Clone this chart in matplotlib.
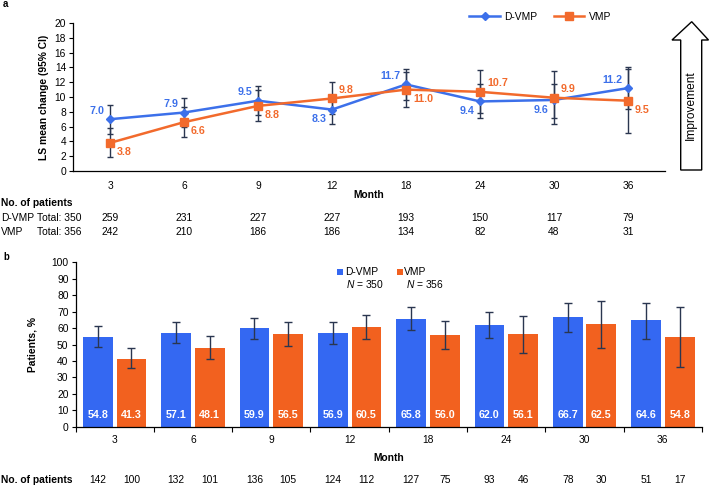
import matplotlib
matplotlib.use("Agg")
import matplotlib.pyplot as plt
import matplotlib.transforms as mtransforms
from matplotlib.patches import Polygon, Rectangle
import numpy as np

plt.rcParams['font.family'] = ['Liberation Sans', 'DejaVu Sans']
plt.rcParams['mathtext.fontset'] = 'custom'
plt.rcParams['mathtext.it'] = 'Liberation Sans:italic'
plt.rcParams['mathtext.rm'] = 'Liberation Sans'

months = ["3", "6", "9", "12", "18", "24", "30", "36"]

# Panel a: LS mean change
dvmp_mean = [7.0, 7.9, 9.5, 8.3, 11.7, 9.4, 9.6, 11.2]
dvmp_lo = [5.0, 5.9, 7.5, 6.3, 9.6, 7.1, 7.2, 8.4]
dvmp_hi = [8.9, 9.9, 11.5, 10.3, 13.8, 11.7, 11.7, 14.1]
vmp_mean = [3.8, 6.6, 8.8, 9.8, 11.0, 10.7, 9.9, 9.5]
vmp_lo = [1.9, 4.6, 6.8, 7.7, 8.7, 7.8, 6.4, 5.1]
vmp_hi = [5.8, 8.6, 10.9, 12.0, 13.4, 13.6, 13.5, 13.8]
dvmp_n_a = [259, 231, 227, 227, 193, 150, 117, 79]
vmp_n_a = [242, 210, 186, 186, 134, 82, 48, 31]

# Panel b: patients %
dvmp_pct = [54.8, 57.1, 59.9, 56.9, 65.8, 62.0, 66.7, 64.6]
dvmp_pct_lo = [48.7, 50.7, 53.3, 50.3, 58.8, 53.8, 57.8, 53.1]
dvmp_pct_hi = [61.1, 63.7, 66.3, 63.7, 72.6, 70.0, 75.3, 75.3]
vmp_pct = [41.3, 48.1, 56.5, 60.5, 56.0, 56.1, 62.5, 54.8]
vmp_pct_lo = [35.5, 41.4, 48.9, 53.1, 47.1, 44.6, 47.7, 36.1]
vmp_pct_hi = [47.9, 55.4, 63.9, 67.7, 64.5, 67.1, 76.3, 73.0]
dvmp_n_b = [142, 132, 136, 124, 127, 93, 78, 51]
vmp_n_b = [100, 101, 105, 112, 75, 46, 30, 17]

BLUE = '#3468F2'
ORANGE = '#F2611F'
LBLUE = '#3C70EA'
LORANGE = '#F26A2C'
ERR = '#2A3650'
FS = 7.4

W, H = 710, 486
fig = plt.figure(figsize=(W / 100, H / 100), dpi=100)

def fy(py):
    return 1 - py / H

def fx(px):
    return px / W

# ---------------- Panel a ----------------
axa = fig.add_axes([fx(73), fy(171), fx(665) - fx(73), fy(23) - fy(171)])
x = np.arange(len(months))
d_err = [np.array(dvmp_mean) - np.array(dvmp_lo), np.array(dvmp_hi) - np.array(dvmp_mean)]
v_err = [np.array(vmp_mean) - np.array(vmp_lo), np.array(vmp_hi) - np.array(vmp_mean)]
axa.errorbar(x, dvmp_mean, yerr=d_err, fmt='none', ecolor=ERR, elinewidth=1.0, capsize=2.5, capthick=1.0, zorder=2)
axa.errorbar(x, vmp_mean, yerr=v_err, fmt='none', ecolor=ERR, elinewidth=1.0, capsize=2.5, capthick=1.0, zorder=2)
axa.plot(x, dvmp_mean, color=LBLUE, lw=1.8, marker='D', ms=4.5, label='D-VMP', zorder=3)
axa.plot(x, vmp_mean, color=LORANGE, lw=1.8, marker='s', ms=6, label='VMP', zorder=4)

axa.set_xlim(-0.5, 7.5)
axa.set_ylim(0, 20)
axa.set_yticks(np.arange(0, 21, 2))
axa.set_xticks(x)
axa.set_xticklabels(months)
axa.tick_params(axis='x', length=0, pad=7, labelsize=FS)
axa.tick_params(axis='y', length=3, width=0.8, direction='out', pad=2, labelsize=FS)
for s in ['top', 'right']:
    axa.spines[s].set_visible(False)
for s in ['left', 'bottom']:
    axa.spines[s].set_linewidth(0.9)
axa.set_ylabel('LS mean change (95% CI)', fontsize=FS, fontweight='bold', labelpad=4)

# Data labels
d_pos = ['up', 'up', 'up', 'down', 'up', 'down', 'down', 'up']
v_pos = ['down', 'down', 'down', 'up', 'down', 'up', 'up', 'down']
for i in range(len(months)):
    dy = 6 if d_pos[i] == 'up' else -7
    axa.annotate(f"{dvmp_mean[i]:.1f}", (x[i], dvmp_mean[i]), xytext=(-4, dy),
                 textcoords='offset points', ha='right', va='center',
                 color=LBLUE, fontsize=FS + 0.3, fontweight='bold')
    dy = 6 if v_pos[i] == 'up' else -6.5
    axa.annotate(f"{vmp_mean[i]:.1f}", (x[i], vmp_mean[i]), xytext=(5, dy),
                 textcoords='offset points', ha='left', va='center',
                 color=LORANGE, fontsize=FS + 0.3, fontweight='bold')

axa.legend(loc='center', bbox_to_anchor=(fx(540), fy(17)), bbox_transform=fig.transFigure,
           ncol=2, frameon=False, fontsize=FS, handlelength=3.0, columnspacing=1.6,
           handletextpad=0.4, borderpad=0)

fig.text(fx(3), fy(4), 'a', fontsize=FS - 0.5, fontweight='bold', ha='left', va='center')
fig.text(fx(369), fy(195), 'Month', fontsize=FS, fontweight='bold', ha='center', va='center')

# Table a
fig.text(0.001, fy(203.3), 'No. of patients', fontsize=FS, fontweight='bold', ha='left', va='center')
fig.text(0.001, fy(218.3), 'D-VMP', fontsize=FS, ha='left', va='center')
fig.text(fx(37), fy(218.3), 'Total: 350', fontsize=FS, ha='left', va='center')
fig.text(0.001, fy(232.3), 'VMP', fontsize=FS, ha='left', va='center')
fig.text(fx(37), fy(232.3), 'Total: 356', fontsize=FS, ha='left', va='center')
trans_a = mtransforms.blended_transform_factory(axa.transData, fig.transFigure)
for i in range(len(months)):
    axa.text(x[i], fy(218.3), str(dvmp_n_a[i]), transform=trans_a, fontsize=FS, ha='center', va='center', clip_on=False)
    axa.text(x[i], fy(232.3), str(vmp_n_a[i]), transform=trans_a, fontsize=FS, ha='center', va='center', clip_on=False)

# Improvement arrow
arrow_pts = [(691.7, 21.7), (708.5, 40), (701.7, 40), (701.7, 170), (680.7, 170), (680.7, 40), (672, 40)]
arrow = Polygon([(fx(px), fy(py)) for px, py in arrow_pts], closed=True, transform=fig.transFigure,
                facecolor='white', edgecolor='black', lw=1.0)
fig.patches.append(arrow)
fig.text(fx(691.2), fy(105), 'Improvement', rotation=90, fontsize=8.6, ha='center', va='center')

# ---------------- Panel b ----------------
axb = fig.add_axes([fx(75.5), fy(426.7), fx(702) - fx(75.5), fy(262.3) - fy(426.7)])
bw = 0.38
off = 0.215
xd = x - off
xv = x + off
axb.bar(xd, dvmp_pct, width=bw, color=BLUE, zorder=2)
axb.bar(xv, vmp_pct, width=bw, color=ORANGE, zorder=2)
axb.errorbar(xd, dvmp_pct, yerr=[np.array(dvmp_pct) - np.array(dvmp_pct_lo), np.array(dvmp_pct_hi) - np.array(dvmp_pct)],
             fmt='none', ecolor=ERR, elinewidth=1.0, capsize=3, capthick=1.0, zorder=3)
axb.errorbar(xv, vmp_pct, yerr=[np.array(vmp_pct) - np.array(vmp_pct_lo), np.array(vmp_pct_hi) - np.array(vmp_pct)],
             fmt='none', ecolor=ERR, elinewidth=1.0, capsize=3, capthick=1.0, zorder=3)
for i in range(len(months)):
    axb.text(xd[i], 7.2, f"{dvmp_pct[i]:.1f}", color='white', fontsize=FS + 0.3, fontweight='bold', ha='center', va='center', zorder=4)
    axb.text(xv[i], 7.2, f"{vmp_pct[i]:.1f}", color='white', fontsize=FS + 0.3, fontweight='bold', ha='center', va='center', zorder=4)

axb.set_xlim(-0.5, 7.5)
axb.set_ylim(0, 100)
axb.set_yticks(np.arange(0, 101, 10))
axb.set_xticks(x)
axb.set_xticklabels(months)
axb.set_xticks(np.arange(-0.5, 8.0, 1.0), minor=True)
axb.tick_params(axis='x', which='major', length=0, pad=6, labelsize=FS)
axb.tick_params(axis='x', which='minor', length=3.5, width=0.8, direction='out')
axb.tick_params(axis='y', length=3, width=0.8, direction='out', pad=2, labelsize=FS)
for s in ['top', 'right']:
    axb.spines[s].set_visible(False)
for s in ['left', 'bottom']:
    axb.spines[s].set_linewidth(0.9)
axb.set_ylabel('Patients, %', fontsize=FS, fontweight='bold', labelpad=10)

fig.text(fx(3), fy(257), 'b', fontsize=FS - 0.5, fontweight='bold', ha='left', va='center')
fig.text(fx(388.7), fy(458), 'Month', fontsize=FS, fontweight='bold', ha='center', va='center')

# Legend b (manual)
fig.patches.append(Rectangle((fx(337), fy(275)), fx(6), 6 / H, transform=fig.transFigure, facecolor=BLUE, edgecolor='none'))
fig.text(fx(345), fy(272), 'D-VMP', fontsize=FS, ha='left', va='center')
fig.text(fx(346), fy(283.5), '$N$ = 350', fontsize=FS, ha='left', va='center')
fig.patches.append(Rectangle((fx(397), fy(275)), fx(6), 6 / H, transform=fig.transFigure, facecolor=ORANGE, edgecolor='none'))
fig.text(fx(404), fy(272), 'VMP', fontsize=FS, ha='left', va='center')
fig.text(fx(406), fy(283.5), '$N$ = 356', fontsize=FS, ha='left', va='center')

# Table b
fig.text(0.001, fy(480), 'No. of patients', fontsize=FS, fontweight='bold', ha='left', va='center')
trans_b = mtransforms.blended_transform_factory(axb.transData, fig.transFigure)
for i in range(len(months)):
    axb.text(xd[i], fy(480), str(dvmp_n_b[i]), transform=trans_b, fontsize=FS, ha='center', va='center', clip_on=False)
    axb.text(xv[i], fy(480), str(vmp_n_b[i]), transform=trans_b, fontsize=FS, ha='center', va='center', clip_on=False)

fig.savefig('out.png', dpi=100)
